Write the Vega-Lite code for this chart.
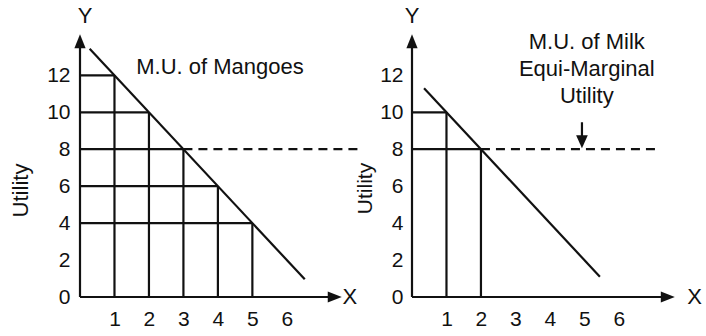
{
  "$schema": "https://vega.github.io/schema/vega-lite/v6.json",
  "autosize": {"type": "none"},
  "padding": {"left": 80, "top": 31, "right": 626, "bottom": 305},
  "bounds": "flush",
  "spacing": 70,
  "config": {
    "view": {"stroke": null},
    "font": "Liberation Sans",
    "axis": {"labelColor": "#111", "titleColor": "#111", "labelFont": "Liberation Sans", "titleFont": "Liberation Sans"}
  },
  "hconcat": [
    {
      "width": 262,
      "height": 266,
      "encoding": {
        "x": {"field": "x", "type": "quantitative", "scale": {"domain": [0, 7.6], "nice": false},
              "axis": {"values": [1, 2, 3, 4, 5, 6], "domain": false, "ticks": false, "grid": false, "labelFontSize": 21, "labelPadding": 11, "title": null}},
        "y": {"field": "y", "type": "quantitative", "scale": {"domain": [0, 14.4], "nice": false},
              "axis": {"values": [0, 2, 4, 6, 8, 10, 12], "domain": false, "ticks": false, "grid": false, "labelFontSize": 21, "labelPadding": 10,
                       "title": "Utility", "titleFontSize": 22, "titleFontWeight": "normal", "titleX": -48, "titleY": 159}}
      },
      "layer": [
        {
          "data": {"values": [
            {"x": 0, "y": 0, "x2": 0, "y2": 13.84},
            {"x": 0, "y": 0, "x2": 7.39, "y2": 0},
            {"x": 0, "y": 12, "x2": 1, "y2": 12},
            {"x": 0, "y": 10, "x2": 2, "y2": 10},
            {"x": 0, "y": 8, "x2": 3, "y2": 8},
            {"x": 0, "y": 6, "x2": 4, "y2": 6},
            {"x": 0, "y": 4, "x2": 5, "y2": 4},
            {"x": 1, "y": 0, "x2": 1, "y2": 12},
            {"x": 2, "y": 0, "x2": 2, "y2": 10},
            {"x": 3, "y": 0, "x2": 3, "y2": 8},
            {"x": 4, "y": 0, "x2": 4, "y2": 6},
            {"x": 5, "y": 0, "x2": 5, "y2": 4},
            {"x": 0.28, "y": 13.44, "x2": 6.52, "y2": 0.96}
          ]},
          "mark": {"type": "rule", "color": "#111", "strokeWidth": 2.2},
          "encoding": {"x2": {"field": "x2"}, "y2": {"field": "y2"}}
        },
        {
          "data": {"values": [{"x": 3, "y": 8, "x2": 8.1, "y2": 8}]},
          "mark": {"type": "rule", "color": "#111", "strokeWidth": 2.2, "strokeDash": [9, 6]},
          "encoding": {"x2": {"field": "x2"}, "y2": {"field": "y2"}}
        },
        {
          "data": {"values": [{"x": 0, "y": 13.84}]},
          "mark": {"type": "point", "shape": "M0,-1L0.8,1L-0.8,1Z", "filled": true, "size": 196, "opacity": 1, "color": "#111"}
        },
        {
          "data": {"values": [{"x": 7.39, "y": 0}]},
          "mark": {"type": "point", "shape": "M1,0L-1,-0.8L-1,0.8Z", "filled": true, "size": 196, "opacity": 1, "color": "#111"}
        },
        {
          "data": {"values": [
            {"x": 4.06, "y": 12.43, "label": "M.U. of Mangoes"},
            {"x": 0.15, "y": 15.2, "label": "Y"},
            {"x": 7.83, "y": 0, "label": "X"}
          ]},
          "mark": {"type": "text", "fontSize": 22, "color": "#111", "align": "center", "baseline": "middle"},
          "encoding": {"text": {"field": "label"}}
        }
      ]
    },
    {
      "width": 262,
      "height": 266,
      "encoding": {
        "x": {"field": "x", "type": "quantitative", "scale": {"domain": [0, 7.6], "nice": false},
              "axis": {"values": [1, 2, 3, 4, 5, 6], "domain": false, "ticks": false, "grid": false, "labelFontSize": 21, "labelPadding": 11, "title": null}},
        "y": {"field": "y", "type": "quantitative", "scale": {"domain": [0, 14.4], "nice": false},
              "axis": {"values": [0, 2, 4, 6, 8, 10, 12], "domain": false, "ticks": false, "grid": false, "labelFontSize": 21, "labelPadding": 9,
                       "title": "Utility", "titleFontSize": 21, "titleFontWeight": "normal", "titleX": -37, "titleY": 157}}
      },
      "layer": [
        {
          "data": {"values": [
            {"x": 0, "y": 0, "x2": 0, "y2": 13.84},
            {"x": 0, "y": 0, "x2": 7.42, "y2": 0},
            {"x": 0, "y": 10, "x2": 1, "y2": 10},
            {"x": 0, "y": 8, "x2": 2, "y2": 8},
            {"x": 1, "y": 0, "x2": 1, "y2": 10},
            {"x": 2, "y": 0, "x2": 2, "y2": 8},
            {"x": 0.35, "y": 11.3, "x2": 5.45, "y2": 1.1},
            {"x": 4.93, "y": 9.46, "x2": 4.93, "y2": 8.5}
          ]},
          "mark": {"type": "rule", "color": "#111", "strokeWidth": 2.2},
          "encoding": {"x2": {"field": "x2"}, "y2": {"field": "y2"}}
        },
        {
          "data": {"values": [{"x": 2, "y": 8, "x2": 7.13, "y2": 8}]},
          "mark": {"type": "rule", "color": "#111", "strokeWidth": 2.2, "strokeDash": [9, 6]},
          "encoding": {"x2": {"field": "x2"}, "y2": {"field": "y2"}}
        },
        {
          "data": {"values": [{"x": 0, "y": 13.84}]},
          "mark": {"type": "point", "shape": "M0,-1L0.8,1L-0.8,1Z", "filled": true, "size": 196, "opacity": 1, "color": "#111"}
        },
        {
          "data": {"values": [{"x": 7.42, "y": 0}]},
          "mark": {"type": "point", "shape": "M1,0L-1,-0.8L-1,0.8Z", "filled": true, "size": 196, "opacity": 1, "color": "#111"}
        },
        {
          "data": {"values": [{"x": 4.93, "y": 8.4}]},
          "mark": {"type": "point", "shape": "M0,1L-0.9,-1L0.9,-1Z", "filled": true, "size": 169, "opacity": 1, "color": "#111"}
        },
        {
          "data": {"values": [
            {"x": 5.07, "y": 13.81, "label": "M.U. of Milk"},
            {"x": 5.07, "y": 12.35, "label": "Equi-Marginal"},
            {"x": 5.07, "y": 10.9, "label": "Utility"},
            {"x": 0, "y": 15.2, "label": "Y"},
            {"x": 8.2, "y": 0, "label": "X"}
          ]},
          "mark": {"type": "text", "fontSize": 22, "color": "#111", "align": "center", "baseline": "middle"},
          "encoding": {"text": {"field": "label"}}
        }
      ]
    }
  ]
}
